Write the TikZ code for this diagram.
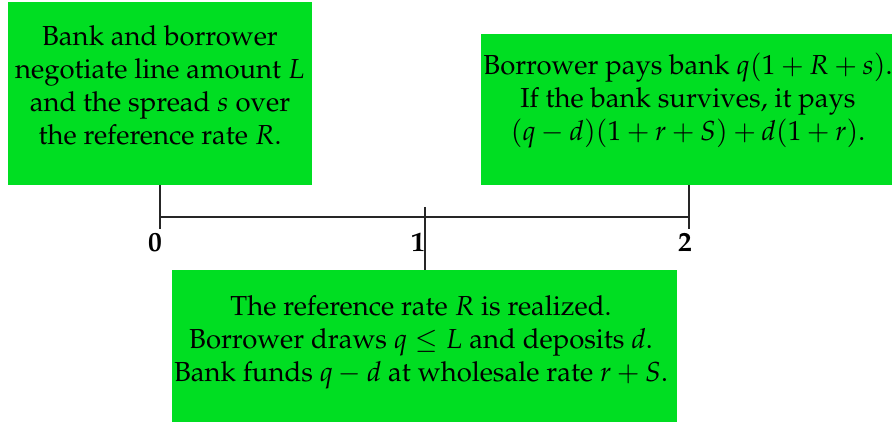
\documentclass[tikz,border=0pt]{standalone}
\usepackage[T1]{fontenc}
\usepackage{mathpazo}
\definecolor{boxgreen}{RGB}{0,222,34}
\begin{document}
\begin{tikzpicture}[x=0.3636pt,y=-0.3636pt,
  box/.style={fill=boxgreen, draw=none, inner sep=0pt, outer sep=0pt},
  boxtext/.style={align=center, inner sep=0pt, font=\normalsize},
  tl/.style={line width=0.6pt, draw=black!85},
  ticklabel/.style={font=\bfseries, inner sep=0pt}]
\useasboundingbox (0,0) rectangle (892,425);
% boxes
\node[box, minimum width=304*0.3636pt, minimum height=183*0.3636pt] (A) at (160,93.5) {};
\node[box, minimum width=411*0.3636pt, minimum height=151*0.3636pt] (B) at (686.5,109.5) {};
\node[box, minimum width=505*0.3636pt, minimum height=152*0.3636pt] (C) at (424.5,346) {};
% texts
\node[boxtext] (At) at (160,85.5) {Bank and borrower\\negotiate line amount $L$\\and the spread $s$ over\\the reference rate $R$.};
\node[boxtext] (Bt) at (688,100.5) {Borrower pays bank $q(1+R+s)$.\\If the bank survives, it pays\\$(q-d)(1+r+S)+d(1+r)$.};
\node[boxtext] (Ct) at (421,342) {The reference rate $R$ is realized.\\Borrower draws $q\le L$ and deposits $d$.\\Bank funds $q-d$ at wholesale rate $r+S$.};
% timeline
\coordinate (t0) at (160,217);
\coordinate (t1) at (425,217);
\coordinate (t2) at (689,217);
\coordinate (e0) at (160,229);
\coordinate (e1) at (425,207);
\coordinate (e2) at (689,229);
\draw[tl] (t0) -- (t2);
\draw[tl] (A.south -| t0) -- (e0);
\draw[tl] (B.south -| t2) -- (e2);
\draw[tl] (e1) -- (C.north -| t1);
\node[ticklabel] (l0) at (155,242) {0};
\node[ticklabel] (l1) at (418,242) {1};
\node[ticklabel] (l2) at (685,242) {2};
\end{tikzpicture}
\end{document}
